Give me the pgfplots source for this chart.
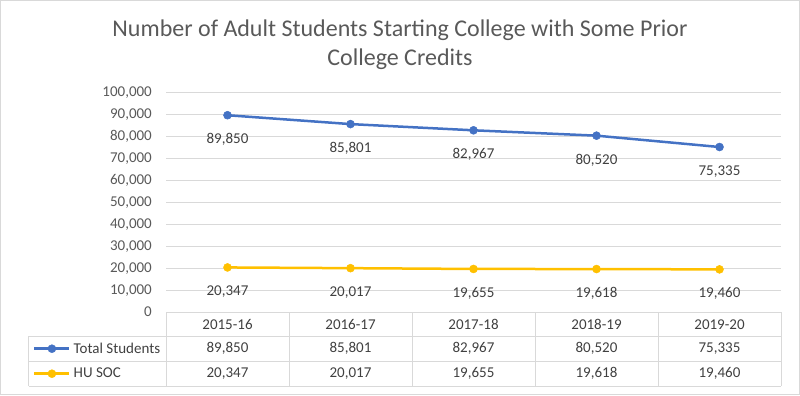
\documentclass[border=0pt]{standalone}
\usepackage{pgfplots}
\pgfplotsset{compat=1.18}
\usepackage{fontspec}
\setmainfont{Carlito}
\definecolor{blueS}{HTML}{4472C4}
\definecolor{gold}{HTML}{FFC000}
\definecolor{gridc}{HTML}{D9D9D9}
\definecolor{txt}{HTML}{595959}
\definecolor{lbl}{HTML}{404040}
\newcommand{\lf}{\fontsize{15bp}{18bp}\selectfont}
\begin{document}
\begin{tikzpicture}
\begin{axis}[
  scale only axis,
  width=615bp, height=219bp,
  xmin=-0.5, xmax=4.5, ymin=0, ymax=100000,
  ytick distance=10000, xtick=\empty,
  scaled y ticks=false,
  ymajorgrids, grid style={gridc, line width=1bp},
  axis line style={draw=none}, major tick length=0,
  clip=false,
  /pgf/number format/.cd, fixed, precision=0, 1000 sep={,}, assume math mode=true,
  /pgfplots/.cd,
  yticklabel style={font=\lf, text=txt, anchor=east, inner sep=0pt, xshift=-14bp},
  every node near coord/.style={font=\lf, text=lbl, anchor=north, inner sep=0pt, yshift=-18bp},
  legend style={at={(rel axis cs:-0.2163,-0.1096)}, anchor=north west, draw=none, fill=none, inner sep=0pt,
    font=\lf, text=lbl, cells={anchor=west}, nodes={minimum height=25bp, inner sep=0pt},
    column sep=3bp},
  legend image code/.code={\draw[mark repeat=2, mark phase=2] plot coordinates {(0bp,0bp) (17.5bp,0bp) (35bp,0bp)};},
]
\addplot[blueS, line width=2.5bp, mark=*, mark size=4bp, mark options={fill=blueS, draw=blueS, line width=0.5bp}, nodes near coords]
  coordinates {(0,89850) (1,85801) (2,82967) (3,80520) (4,75335)};
\addlegendentry{Total Students}
\addplot[gold, line width=2.5bp, mark=*, mark size=4bp, mark options={fill=gold, draw=gold, line width=0.5bp}, nodes near coords]
  coordinates {(0,20347) (1,20017) (2,19655) (3,19618) (4,19460)};
\addlegendentry{HU SOC}
\coordinate (O) at (rel axis cs:0,0);
\end{axis}
\begin{scope}[shift={(O)}, xshift=-166bp, yshift=-83bp, x=1bp, y=1bp]
\draw[gridc, line width=1bp] (0.5,0.5) rectangle (799.5,394.5);
\node[txt, font=\fontsize{24bp}{28bp}\selectfont, anchor=base] at (400,359) {Number of Adult Students Starting College with Some Prior};
\node[txt, font=\fontsize{24bp}{28bp}\selectfont, anchor=base] at (400,330) {College Credits};
% table grid
\begin{scope}[gridc, line width=1bp]
\draw (166,83) -- (781,83);
\draw (29,59) -- (781,59);
\draw (29,34) -- (781,34);
\draw (29,9) -- (781,9);
\draw (29,59) -- (29,9);
\foreach \x in {166,289,412,535,658,781} {\draw (\x,83) -- (\x,9);}
\end{scope}
\begin{scope}[font=\lf, text=lbl]
\foreach \lab [count=\i from 0] in {2015-16,2016-17,2017-18,2018-19,2019-20}
  {\node at (227.5+123*\i,70.5) {\lab};}
\foreach \lab [count=\i from 0] in {89{,}850,85{,}801,82{,}967,80{,}520,75{,}335}
  {\node at (227.5+123*\i,46.5) {\lab};}
\foreach \lab [count=\i from 0] in {20{,}347,20{,}017,19{,}655,19{,}618,19{,}460}
  {\node at (227.5+123*\i,21.5) {\lab};}
\end{scope}
\pgfresetboundingbox
\path[use as bounding box] (0,0) rectangle (800,395);
\end{scope}
\end{tikzpicture}
\end{document}
